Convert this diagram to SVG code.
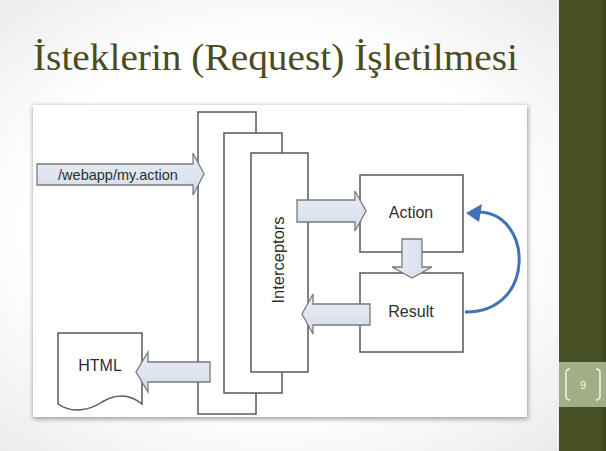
<svg xmlns="http://www.w3.org/2000/svg" width="606" height="451" viewBox="0 0 606 451">
<defs>
<radialGradient id="bg" cx="0.45" cy="0.5" r="0.75">
<stop offset="0.55" stop-color="#ffffff"/>
<stop offset="1" stop-color="#e6e6e6"/>
</radialGradient>
<linearGradient id="af" x1="0" y1="0" x2="0" y2="1">
<stop offset="0" stop-color="#e9eef5"/>
<stop offset="1" stop-color="#d3dde9"/>
</linearGradient>
<linearGradient id="afv" x1="0" y1="0" x2="1" y2="0">
<stop offset="0" stop-color="#e9eef5"/>
<stop offset="1" stop-color="#d3dde9"/>
</linearGradient>
<filter id="sh" x="-5%" y="-5%" width="110%" height="110%">
<feGaussianBlur stdDeviation="2.5"/>
</filter>
<style>
.box{fill:#ffffff;stroke:#585858;stroke-width:1.5}
.blk{stroke:#7a7a7a;stroke-width:1.3;stroke-linejoin:miter}
.lbl{font-family:"Liberation Sans",Arial,sans-serif;font-size:16px;fill:#2e2e2e;text-anchor:middle}
</style>
</defs>
<rect x="0" y="0" width="606" height="451" fill="url(#bg)"/>
<rect x="559" y="0" width="47" height="451" fill="#465024"/>
<rect x="603" y="0" width="3" height="451" fill="#3d461e"/>
<rect x="559" y="362" width="47" height="45" fill="#a2ae86"/>
<g fill="none" stroke="#eef2e6" stroke-width="1.6" stroke-linejoin="round">
<path d="M570,369 Q566,369 566,373 V396 Q566,400 570,400"/>
<path d="M596,369 Q600,369 600,373 V396 Q600,400 596,400"/>
</g>
<text x="583" y="389" font-family="'Liberation Sans',Arial,sans-serif" font-size="11" fill="#f4f6ee" text-anchor="middle">9</text>
<text x="33" y="70" font-family="'Liberation Serif','Times New Roman',serif" font-size="38" fill="#4a4b20" textLength="485" lengthAdjust="spacingAndGlyphs">İsteklerin (Request) İşletilmesi</text>
<rect x="33" y="106" width="495" height="313" fill="#9a9a9a" filter="url(#sh)"/>
<rect x="33" y="105" width="494" height="312" fill="#ffffff"/>
<g id="layer1"><rect class="box" x="198" y="112" width="58" height="302"/></g>
<g id="layer2"><rect class="box" x="224" y="133" width="58" height="260"/></g>
<g id="interceptors"><rect class="box" x="251" y="153" width="57" height="219"/>
<text class="lbl" transform="translate(284,260) rotate(-90)" style="font-size:16.5px">Interceptors</text></g>
<g id="action"><rect class="box" x="360" y="175" width="103" height="77"/>
<text class="lbl" x="411" y="218">Action</text></g>
<g id="result"><rect class="box" x="360" y="273" width="103" height="79"/>
<text class="lbl" x="411" y="317">Result</text></g>
<g id="html"><path class="box" d="M58,333 H142 V404 C130,394 117,393 102,402 C90,410 72,414 58,404 Z"/>
<text class="lbl" x="100" y="371">HTML</text></g>
<g id="request"><polygon class="blk" fill="url(#af)" points="37,164 193,164 193,153 204,174 193,195 193,185 37,185"/>
<text class="lbl" x="118" y="180" style="font-size:14.5px">/webapp/my.action</text></g>
<g id="connectors">
<polygon class="blk" fill="url(#af)" points="297,200 355,200 355,191 366,211 355,231 355,222 297,222"/>
<polygon class="blk" fill="url(#afv)" points="402,239 422,239 422,267 432,267 412,278 392,267 402,267"/>
<polygon class="blk" fill="url(#af)" points="370,304 313,304 313,294 302,314 313,334 313,325 370,325"/>
<polygon class="blk" fill="url(#af)" points="210,362 148,362 148,352 136,372 148,392 148,382 210,382"/>
<path d="M465,312 C537,313 533,212 478,212" fill="none" stroke="#3e74b6" stroke-width="3"/>
<polygon points="466,213 482,204 479,222" fill="#3e74b6"/>
</g>
</svg>
